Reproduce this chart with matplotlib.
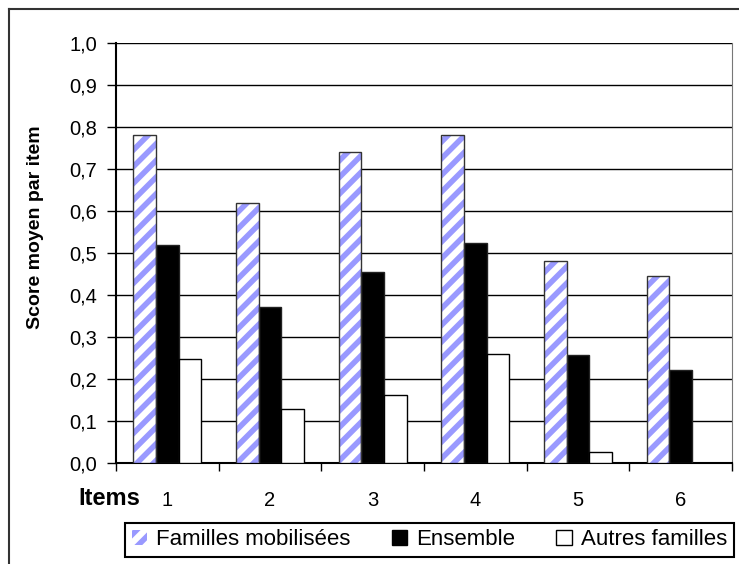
import numpy as np
import matplotlib.pyplot as plt
from matplotlib.patches import Patch
from matplotlib.lines import Line2D

# data
items = ["1", "2", "3", "4", "5", "6"]
familles_mobilisees = [0.78, 0.62, 0.74, 0.78, 0.48, 0.445]
ensemble = [0.518, 0.372, 0.454, 0.523, 0.257, 0.223]
autres_familles = [0.249, 0.128, 0.162, 0.26, 0.026, 0.0]
yticks = [0.0, 0.1, 0.2, 0.3, 0.4, 0.5, 0.6, 0.7, 0.8, 0.9, 1.0]
ytick_labels = ["0,0", "0,1", "0,2", "0,3", "0,4", "0,5", "0,6", "0,7", "0,8", "0,9", "1,0"]

plt.rcParams['font.family'] = ['Liberation Sans', 'DejaVu Sans']
plt.rcParams['hatch.linewidth'] = 4.0

blue = "#9999ff"
fig = plt.figure(figsize=(7.39, 5.64), dpi=100)
ax = fig.add_axes([0.157, 0.1785, 0.8335, 0.7458])

x = np.arange(1, len(items) + 1)
w = 0.22

# hatched bars: pattern first, then the grey outline on top
ax.bar(x - w, familles_mobilisees, w, color="white", edgecolor=blue, hatch="//", linewidth=0, zorder=3)
ax.bar(x - w, familles_mobilisees, w, fill=False, edgecolor="#333333", linewidth=1, zorder=4)
ax.bar(x, ensemble, w, color="black", edgecolor="#222222", linewidth=1, zorder=3)
ax.bar(x + w, autres_familles, w, color="white", edgecolor="black", linewidth=1, zorder=3)

ax.set_xlim(0.5, len(items) + 0.5)
ax.set_ylim(0, 1.0)
ax.set_yticks(yticks)
ax.set_yticklabels(ytick_labels, fontsize=14.5)
ax.yaxis.grid(True, color="black", linewidth=1)
ax.set_axisbelow(True)

# ticks at category boundaries, labels at centres
ax.set_xticks(np.arange(0.5, len(items) + 1, 1))
ax.set_xticklabels([])
ax.set_xticks(x, minor=True)
ax.set_xticklabels(items, minor=True, fontsize=14.5)
ax.tick_params(axis="x", which="major", direction="out", length=6, width=1)
ax.tick_params(axis="x", which="minor", length=0, pad=20)
ax.tick_params(axis="y", direction="out", length=6.5, width=1, pad=7)

ax.spines["top"].set_visible(False)
ax.spines["right"].set_color("#777777")
ax.spines["left"].set_linewidth(1.5)
ax.spines["bottom"].set_linewidth(1.5)

fig.text(0.0487, 0.5966, "Score moyen par item", rotation=90, ha="center", va="center",
         fontsize=14, fontweight="bold")
fig.text(140 / 739, 1 - 505 / 564, "Items", ha="right", va="baseline", fontsize=17, fontweight="bold")

handles = [Patch(facecolor="white", edgecolor=blue, hatch="//", linewidth=0),
           Patch(facecolor="black", edgecolor="black"),
           Patch(facecolor="white", edgecolor="black")]
leg = fig.legend(handles, ["Familles mobilisées", "Ensemble", "Autres familles"],
                 loc="lower left", bbox_to_anchor=(0.169, 0.0124, 0.824, 0.0674),
                 mode="expand", ncol=3, fontsize=16, fancybox=False, framealpha=1,
                 edgecolor="black", handlelength=0.7, handleheight=0.7,
                 handletextpad=0.4, borderaxespad=0, borderpad=0.3)
leg.get_frame().set_linewidth(1.5)

# outer frame of the chart area
fig.add_artist(Line2D([8.5 / 739, 1], [1 - 8.5 / 564] * 2, color="#333333", linewidth=1.5))
fig.add_artist(Line2D([8.5 / 739] * 2, [0, 1 - 8.5 / 564], color="#333333", linewidth=1.5))

plt.savefig("out.png", dpi=100)
